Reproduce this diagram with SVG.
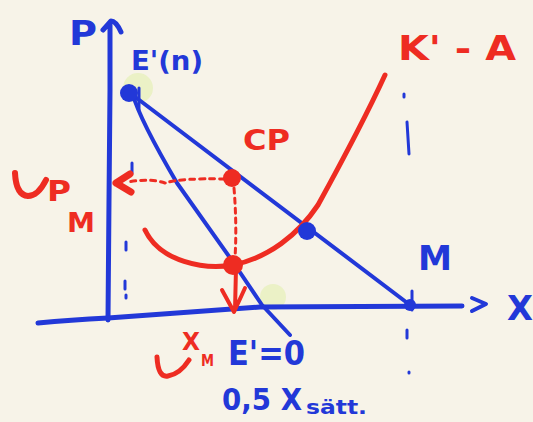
<svg xmlns="http://www.w3.org/2000/svg" width="533" height="422" viewBox="0 0 533 422">
<style>
.b{stroke:#2238d8;fill:none;stroke-linecap:round;stroke-linejoin:round}
.r{stroke:#ee2c22;fill:none;stroke-linecap:round;stroke-linejoin:round}
.tb{fill:#2238d8;font-family:"DejaVu Sans",sans-serif;font-weight:bold}
.tr{fill:#ee2c22;font-family:"DejaVu Sans",sans-serif;font-weight:bold}
.hl{fill:#e6efb8;opacity:0.7}
</style>
<rect width="533" height="422" fill="#f7f3e8"/>
<circle class="hl" cx="138" cy="88" r="15"/>
<circle class="hl" cx="273" cy="297" r="13"/>
<g id="axes">
<path class="b" stroke-width="5" d="M108,320 L109,200 L110,90 L110,24 M103,30 L111,21 Q116,21 121,32"/>
<path class="b" stroke-width="5" d="M38,323 Q70,320 108,318 L260,307 L462,306"/>
<path class="b" stroke-width="4" d="M472,298 L486,304 L472,311"/>
</g>
<g id="guides">
<path class="b" stroke-width="3" d="M132,163 L132,173 M126,242 L126,250 M125,281 L125,289 M126,295 L126,298"/>
<path class="b" stroke-width="3" d="M404,94 L404,97 M407,122 L409,154 M407,330 L407,338 M409,372 L409,373"/>
</g>
<g id="connectors">
<path class="b" stroke-width="4" d="M130,93 L410,305"/>
<path class="b" stroke-width="4" d="M133,95 Q140,120 177,183 L233,262 L262,305 L290,335"/>
<path class="r" stroke-width="5" d="M145,230 C160,262 205,270 233,265 C268,258 298,235 318,205 C340,165 362,125 385,75"/>
<path class="r" stroke-width="3" stroke-dasharray="5 5" d="M225,179 Q180,178 165,183 Q150,178 128,182"/>
<path class="r" stroke-width="7" d="M116,183 L130,174 M116,183 L131,192"/>
<path class="r" stroke-width="3" stroke-dasharray="5 5" d="M234,188 Q237,225 235,258"/>
<path class="r" stroke-width="4" d="M236,268 L235,310 M222,290 L234,312 L245,288"/>
<path class="b" stroke-width="3" d="M412,291 L412,310"/>
</g>
<g id="E1">
<circle cx="129" cy="93" r="9" fill="#2238d8"/>
<path class="b" stroke-width="3" d="M139,88 L139,110"/>
<text class="tb" x="131" y="70" font-size="27" textLength="72" lengthAdjust="spacingAndGlyphs">E'(n)</text>
</g>
<g id="P">
<text class="tb" x="69" y="45" font-size="34" textLength="28" lengthAdjust="spacingAndGlyphs">P</text>
</g>
<g id="CP">
<circle cx="232" cy="178" r="9" fill="#ee2c22"/>
<text class="tr" x="243" y="150" font-size="28" textLength="47" lengthAdjust="spacingAndGlyphs">CP</text>
</g>
<g id="min">
<circle cx="233" cy="265" r="10" fill="#ee2c22"/>
</g>
<g id="intersection">
<circle cx="307" cy="231" r="9" fill="#2238d8"/>
</g>
<g id="M">
<circle cx="410" cy="305" r="6" fill="#2238d8"/>
<text class="tb" x="418" y="270" font-size="34" textLength="34" lengthAdjust="spacingAndGlyphs">M</text>
</g>
<g id="KA">
<text class="tr" x="398" y="60" font-size="34" textLength="118" lengthAdjust="spacingAndGlyphs">K' - A</text>
</g>
<g id="PM">
<path class="r" stroke-width="6" d="M15,173 Q16,195 28,196 Q38,196 46,180"/>
<text class="tr" x="47" y="201" font-size="28" textLength="24" lengthAdjust="spacingAndGlyphs">P</text>
<text class="tr" x="67" y="232" font-size="26" textLength="28" lengthAdjust="spacingAndGlyphs">M</text>
</g>
<g id="XM">
<path class="r" stroke-width="5" d="M157,357 Q158,378 168,376 Q180,374 189,360"/>
<text class="tr" x="182" y="350" font-size="25" textLength="18" lengthAdjust="spacingAndGlyphs">X</text>
<text class="tr" x="201" y="366" font-size="15" textLength="13" lengthAdjust="spacingAndGlyphs">M</text>
</g>
<g id="E0">
<text class="tb" x="228" y="365" font-size="33" textLength="77" lengthAdjust="spacingAndGlyphs">E'=0</text>
<text class="tb" x="222" y="410" font-size="31" textLength="80" lengthAdjust="spacingAndGlyphs">0,5 X</text>
<text class="tb" x="306" y="414" font-size="20" textLength="61" lengthAdjust="spacingAndGlyphs">sätt.</text>
</g>
<g id="Xaxis">
<text class="tb" x="507" y="320" font-size="34" textLength="26" lengthAdjust="spacingAndGlyphs">X</text>
</g>
</svg>
